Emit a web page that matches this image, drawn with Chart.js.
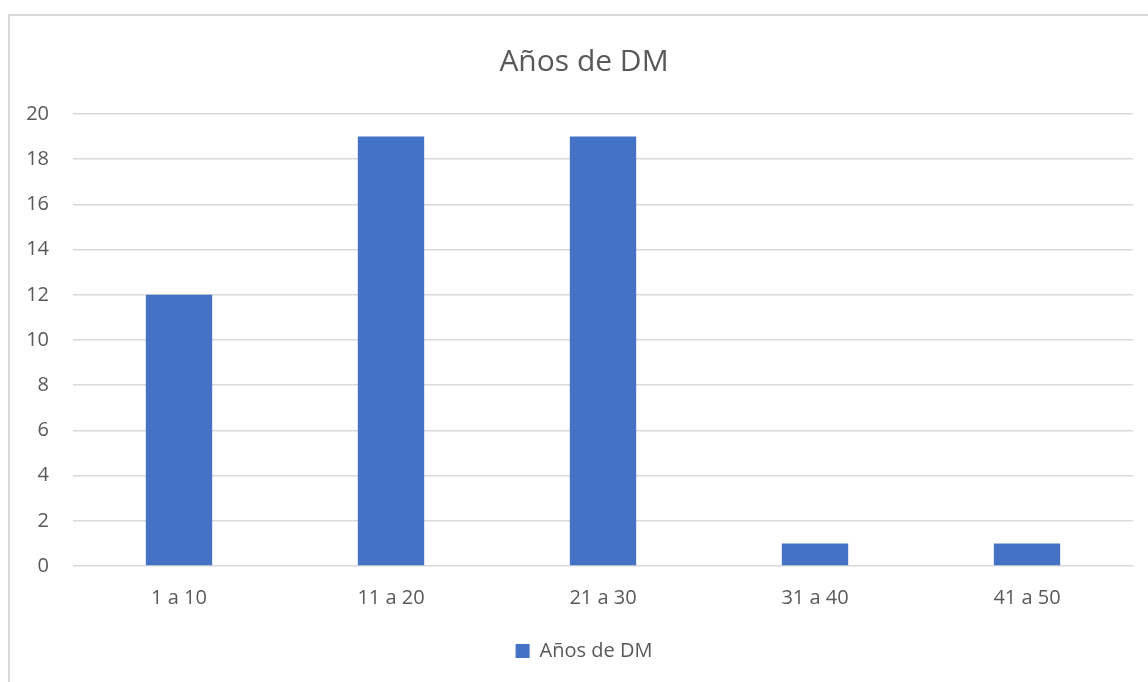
<!DOCTYPE html>
<html>
<head>
<meta charset="utf-8">
<script src="https://cdn.jsdelivr.net/npm/chart.js"></script>
<style>
  html, body { margin: 0; padding: 0; background: #fff; overflow: hidden; }
  #marco {
    position: absolute; left: 8px; top: 14px;
    width: 1148px; height: 680px;
    border: 2px solid #d9d9d9;
  }
</style>
</head>
<body>
<div id="marco"><canvas id="graficoDM" width="1148" height="680"></canvas></div>
<script>
const categorias = ['1 a 10', '11 a 20', '21 a 30', '31 a 40', '41 a 50'];
const valores = [12, 19, 19, 1, 1];
const nombreSerie = 'Años de DM';

const grisTexto = '#595959';
const grisLinea = '#d9d9d9';
const azul = '#4472C4';

const data = {
  labels: categorias,
  datasets: [{
    label: nombreSerie,
    data: valores,
    backgroundColor: azul,
    borderWidth: 0,
    categoryPercentage: 1,
    barPercentage: 0.313
  }]
};

const config = {
  type: 'bar',
  data: data,
  options: {
    responsive: false,
    animation: false,
    layout: { padding: { left: 0, right: 0, top: 0, bottom: 25 } },
    plugins: {
      title: {
        display: true,
        text: nombreSerie,
        color: grisTexto,
        font: { family: 'Open Sans', size: 30, weight: 'normal' },
        padding: { top: 28, bottom: 34 }
      },
      legend: {
        position: 'bottom',
        labels: {
          color: grisTexto,
          font: { family: 'Open Sans', size: 20 },
          boxWidth: 14,
          boxHeight: 14,
          padding: 10
        }
      },
      tooltip: { enabled: false }
    },
    scales: {
      x: {
        grid: { display: false, drawTicks: false },
        border: { display: false },
        ticks: {
          color: grisTexto,
          font: { family: 'Open Sans', size: 20 },
          padding: 20
        },
        afterFit: (scale) => { scale.height = 65; }
      },
      y: {
        min: 0,
        max: 20,
        grid: { color: grisLinea, lineWidth: 1.5, drawTicks: false },
        border: { display: false },
        ticks: {
          stepSize: 2,
          color: grisTexto,
          font: { family: 'Open Sans', size: 20 },
          padding: 24
        },
        afterFit: (scale) => { scale.width = 63; }
      },
      // eje vacío a la derecha, solo para dejar el margen como en Excel
      margenDerecho: {
        type: 'linear',
        position: 'right',
        grid: { display: false, drawTicks: false },
        border: { display: false },
        ticks: { display: false },
        afterFit: (scale) => { scale.width = 25; }
      }
    }
  }
};

window.addEventListener('DOMContentLoaded', () => {
  const canvas = document.getElementById('graficoDM');
  new Chart(canvas.getContext('2d'), config);
});
</script>
</body>
</html>
